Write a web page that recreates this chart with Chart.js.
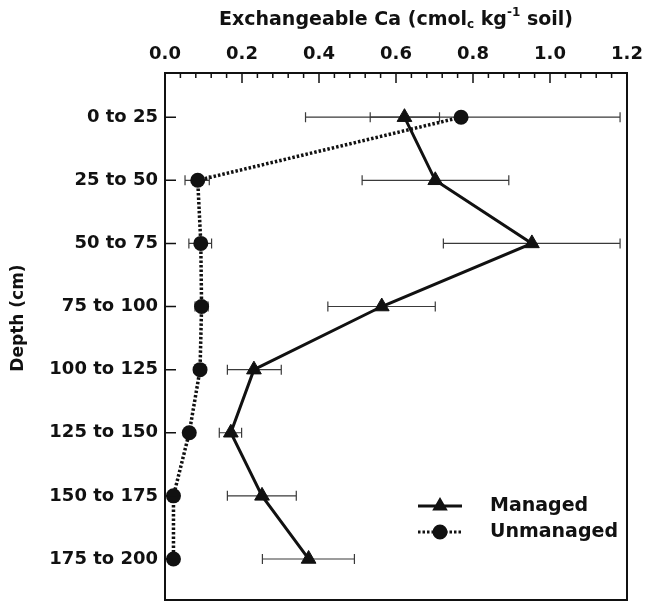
<!DOCTYPE html>
<html lang="en">
<head>
  <meta charset="UTF-8" />
  <title>Exchangeable Ca by Depth</title>

  <!-- Chart.js Library -->
  <script src="https://cdn.jsdelivr.net/npm/chart.js"></script>

  <style>
    body {
      margin: 0;
      background: #ffffff;
    }
    canvas {
      display: block;
    }
  </style>
</head>
<body>
  <canvas id="caChart" width="646" height="602"></canvas>

  <script>
    // depth classes, top of profile first
    const depthLabels = ['0 to 25', '25 to 50', '50 to 75', '75 to 100', '100 to 125', '125 to 150', '150 to 175', '175 to 200'];

    // exchangeable Ca, cmol(c)/kg soil
    const managedCa = [0.622, 0.702, 0.953, 0.563, 0.231, 0.171, 0.252, 0.373];
    const managedLow = [0.533, 0.512, 0.723, 0.423, 0.162, 0.141, 0.162, 0.253];
    const managedHigh = [0.713, 0.893, 1.182, 0.702, 0.302, 0.199, 0.341, 0.492];

    const unmanagedCa = [0.769, 0.085, 0.093, 0.095, 0.091, 0.063, 0.022, 0.022];
    const unmanagedLow = [0.365, 0.052, 0.062, 0.078, null, null, null, null];
    const unmanagedHigh = [1.182, 0.115, 0.121, 0.112, null, null, null, null];

    const caTicks = [0, 0.2, 0.4, 0.6, 0.8, 1.0, 1.2];

    const FONT = '"DejaVu Sans", sans-serif';
    const INK = '#111';

    // keep the plot box where the axes say, no extra room for edge labels
    function noScalePadding(s) {
      s.paddingTop = 0;
      s.paddingBottom = 0;
      s.paddingLeft = 0;
      s.paddingRight = 0;
    }

    // error bars, frame, inside ticks, titles and legend
    const profileDecor = {
      id: 'profileDecor',
      beforeDatasetsDraw(chart) {
        const { ctx, scales: { x, y } } = chart;
        ctx.save();
        ctx.strokeStyle = '#3a3a3a';
        ctx.lineWidth = 1.2;
        [[managedLow, managedHigh], [unmanagedLow, unmanagedHigh]].forEach(([lo, hi]) => {
          lo.forEach((v, i) => {
            if (v == null) return;
            const py = y.getPixelForValue(i);
            const x0 = x.getPixelForValue(v);
            const x1 = x.getPixelForValue(hi[i]);
            ctx.beginPath();
            ctx.moveTo(x0, py); ctx.lineTo(x1, py);
            ctx.moveTo(x0, py - 5); ctx.lineTo(x0, py + 5);
            ctx.moveTo(x1, py - 5); ctx.lineTo(x1, py + 5);
            ctx.stroke();
          });
        });
        ctx.restore();
      },
      afterDraw(chart) {
        const { ctx, chartArea: a, scales: { x, y } } = chart;
        ctx.save();
        ctx.strokeStyle = INK;
        ctx.fillStyle = INK;

        // frame
        ctx.lineWidth = 2;
        ctx.strokeRect(a.left, a.top, a.right - a.left, a.bottom - a.top);

        // top axis ticks: major every 0.2, minor every 0.04
        ctx.lineWidth = 1.5;
        ctx.beginPath();
        for (let k = 1; k < 30; k++) {
          const px = x.getPixelForValue(k * 0.04);
          const len = k % 5 === 0 ? 10 : 5;
          ctx.moveTo(px, a.top);
          ctx.lineTo(px, a.top + len);
        }
        // left axis ticks at each depth class
        depthLabels.forEach((_, i) => {
          const py = y.getPixelForValue(i);
          ctx.moveTo(a.left, py);
          ctx.lineTo(a.left + 11, py);
        });
        ctx.stroke();

        // x-axis title with subscript and superscript
        const big = 'bold 19px ' + FONT;
        const small = 'bold 12px ' + FONT;
        const parts = [
          ['Exchangeable Ca (cmol', big, 0],
          ['c', small, 5],
          [' kg', big, 0],
          ['-1', small, -7],
          [' soil)', big, 0]
        ];
        let total = 0;
        parts.forEach(p => { ctx.font = p[1]; total += ctx.measureText(p[0]).width; });
        let tx = (a.left + a.right) / 2 - total / 2;
        ctx.textBaseline = 'middle';
        ctx.textAlign = 'left';
        parts.forEach(p => {
          ctx.font = p[1];
          ctx.fillText(p[0], tx, 20 + p[2]);
          tx += ctx.measureText(p[0]).width;
        });

        // y-axis title
        ctx.save();
        ctx.translate(19, 318);
        ctx.rotate(-Math.PI / 2);
        ctx.textAlign = 'center';
        ctx.font = 'bold 17px ' + FONT;
        ctx.fillText('Depth (cm)', 0, 0);
        ctx.restore();

        // legend
        const rows = [
          { label: 'Managed', y: 506, dash: [], style: 'triangle', r: 6 },
          { label: 'Unmanaged', y: 532, dash: [2.5, 2], style: 'circle', r: 6 }
        ];
        rows.forEach(row => {
          ctx.lineWidth = 3;
          ctx.setLineDash(row.dash);
          ctx.beginPath();
          ctx.moveTo(418, row.y);
          ctx.lineTo(462, row.y);
          ctx.stroke();
          ctx.setLineDash([]);
          Chart.helpers.drawPoint(ctx, { pointStyle: row.style, radius: row.r, borderWidth: 1 }, 440, row.y);
          ctx.fill();
          ctx.font = 'bold 19px ' + FONT;
          ctx.textAlign = 'left';
          ctx.fillText(row.label, 490, row.y);
        });

        ctx.restore();
      }
    };

    const ctx = document.getElementById('caChart').getContext('2d');

    new Chart(ctx, {
      type: 'line',
      data: {
        datasets: [
          {
            label: 'Managed',
            data: managedCa.map((v, i) => ({ x: v, y: i })),
            borderColor: INK,
            backgroundColor: INK,
            borderWidth: 3,
            pointStyle: 'triangle',
            pointRadius: 8.5,
            pointBorderWidth: 1,
            tension: 0
          },
          {
            label: 'Unmanaged',
            data: unmanagedCa.map((v, i) => ({ x: v, y: i })),
            borderColor: INK,
            backgroundColor: INK,
            borderWidth: 3.5,
            borderDash: [2.5, 2],
            pointStyle: 'circle',
            pointRadius: 7.5,
            pointBorderWidth: 0,
            tension: 0
          }
        ]
      },
      options: {
        responsive: false,
        animation: false,
        indexAxis: 'y',
        layout: {
          autoPadding: false,
          padding: { left: 0, top: 0, right: 19, bottom: 2 }
        },
        plugins: {
          legend: { display: false },
          tooltip: { enabled: false }
        },
        scales: {
          x: {
            type: 'linear',
            position: 'top',
            min: 0,
            max: 1.2,
            afterBuildTicks: s => { s.ticks = caTicks.map(v => ({ value: v })); },
            afterFit: s => { s.height = 73; noScalePadding(s); },
            grid: { display: false, drawTicks: false },
            border: { display: false },
            ticks: {
              color: INK,
              padding: 8,
              font: { family: FONT, size: 18, weight: 'bold' },
              callback: v => v.toFixed(1)
            }
          },
          y: {
            type: 'linear',
            position: 'left',
            reverse: true,
            min: -0.70,
            max: 7.65,
            afterBuildTicks: s => { s.ticks = depthLabels.map((_, i) => ({ value: i })); },
            afterFit: s => { s.width = 165; noScalePadding(s); },
            grid: { display: false, drawTicks: false },
            border: { display: false },
            ticks: {
              color: INK,
              padding: 7,
              font: { family: FONT, size: 18, weight: 'bold' },
              callback: v => depthLabels[v]
            }
          }
        }
      },
      plugins: [profileDecor]
    });
  </script>
</body>
</html>
